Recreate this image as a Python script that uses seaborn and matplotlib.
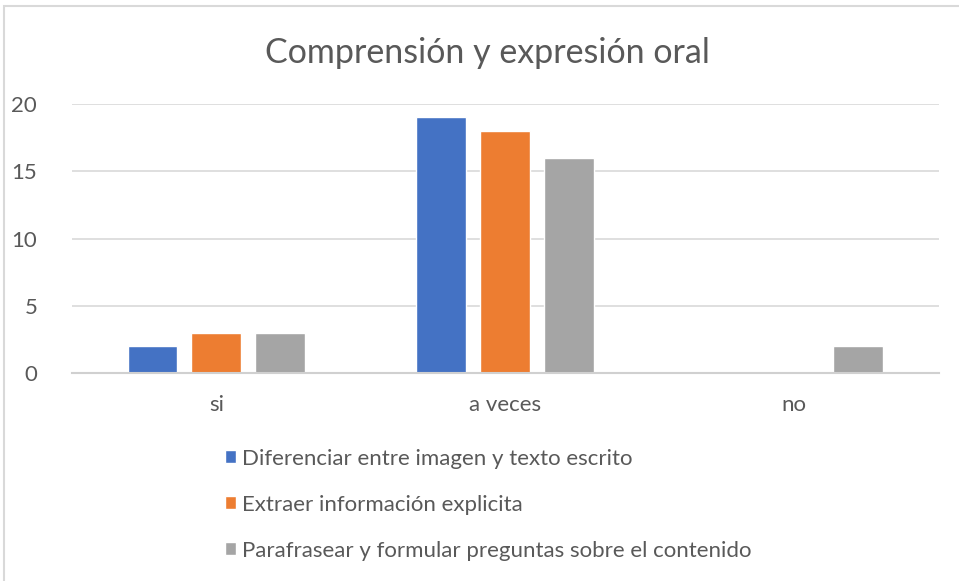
import pandas as pd
import matplotlib.pyplot as plt
import seaborn as sns
from matplotlib.patches import Rectangle

# datos
categorias = ['si', 'a veces', 'no']
series = ['Diferenciar entre imagen y texto escrito',
          'Extraer información explicita',
          'Parafrasear y formular preguntas sobre el contenido']
diferenciar = [2, 19, 0]
extraer = [3, 18, 0]
parafrasear = [3, 16, 2]
colores = ['#4472C4', '#ED7D31', '#A5A5A5']

df = pd.DataFrame({
    'categoria': categorias * 3,
    'serie': [series[0]] * 3 + [series[1]] * 3 + [series[2]] * 3,
    'valor': diferenciar + extraer + parafrasear,
})

sns.set_style('white')
plt.rcParams['font.family'] = ['Lato', 'DejaVu Sans']

fig = plt.figure(figsize=(9.59, 5.81), dpi=100)
ax = fig.add_axes([0.075, 0.358, 0.904, 0.463])

sns.barplot(data=df, x='categoria', y='valor', hue='serie', order=categorias,
            hue_order=series, palette=colores, width=0.664, gap=0.22,
            saturation=1, ax=ax, legend=True)

ax.set_ylim(0, 20)
ax.set_yticks([0, 5, 10, 15, 20])
ax.set_xlim(-0.5, 2.5)
ax.yaxis.grid(True, color='#D9D9D9', linewidth=1.2)
ax.set_axisbelow(True)
for s in ['top', 'right', 'left']:
    ax.spines[s].set_visible(False)
ax.spines['bottom'].set_color('#D0D0D0')
ax.spines['bottom'].set_linewidth(1.5)
ax.tick_params(axis='both', length=0, labelsize=16, labelcolor='#595959')
ax.tick_params(axis='y', pad=25)
ax.tick_params(axis='x', pad=16)
ax.set_xlabel('')
ax.set_ylabel('')

fig.text(0.508, 0.909, 'Comprensión y expresión oral', ha='center', va='center',
         fontsize=24.5, color='#595959')

handles, labels = ax.get_legend_handles_labels()
ax.get_legend().remove()
fig.legend(handles, labels, loc='upper left', bbox_to_anchor=(0.2346, 0.228),
           frameon=False, fontsize=16, labelcolor='#595959',
           borderpad=0, borderaxespad=0,
           handlelength=0.48, handleheight=0.48, handletextpad=0.3,
           labelspacing=1.17)

# borde del grafico
fig.patches.append(Rectangle((0.004, -0.05), 1.1, 1.04, transform=fig.transFigure,
                             fill=False, edgecolor='#D9D9D9', linewidth=1.5))

fig.savefig('out.png', dpi=100)
